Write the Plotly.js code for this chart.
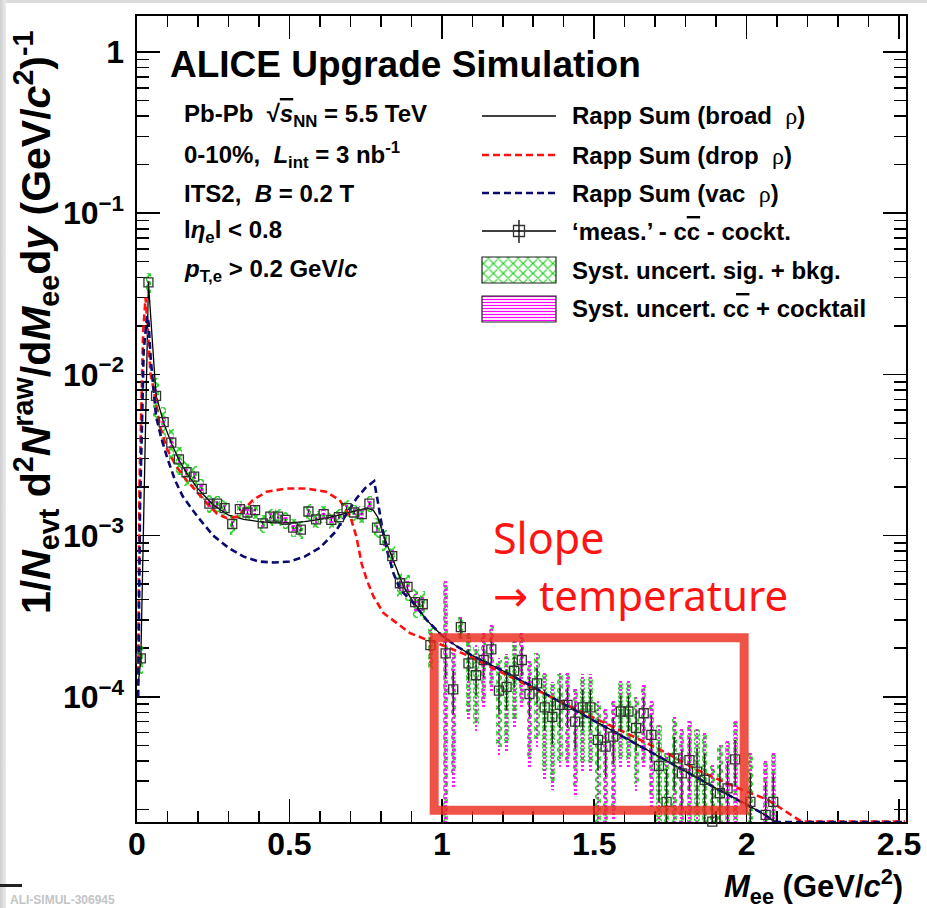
<!DOCTYPE html>
<html><head><meta charset="utf-8">
<script src="https://cdn.plot.ly/plotly-3.0.1.min.js"></script>
<style>
html,body{margin:0;padding:0;background:#fff;overflow:hidden;}
#frameTop{position:absolute;left:0;top:0;width:927px;height:3px;background:#dcdcdc;}
#frameLeft{position:absolute;left:0;top:0;width:6px;height:908px;background:linear-gradient(to right,#cfcfcf,#ececec);}
#blackTick{position:absolute;left:0;top:884px;width:22px;height:3px;background:#222;}
#chart{position:absolute;left:0;top:0;width:927px;height:908px;}
</style></head>
<body>
<div id="frameTop"></div><div id="frameLeft"></div><div id="blackTick"></div>
<div id="chart"></div>
<script>
// ---------------- data ----------------
const mass = [0.0125,0.0375,0.0625,0.0875,0.1125,0.1375,0.1625,0.1875,0.2125,0.2375,
0.2625,0.2875,0.3125,0.3375,0.3625,0.3875,0.4125,0.4375,0.4625,0.4875,
0.5125,0.5375,0.5625,0.5875,0.6125,0.6375,0.6625,0.6875,0.7125,0.7375,
0.7625,0.7875,0.8125,0.8375,0.8625,0.8875,0.9125,0.9375,0.9625,0.9875,
1.0125,1.0375,1.0625,1.0875,1.1125,1.1375,1.1625,1.1875,1.2125,1.2375,
1.2625,1.2875,1.3125,1.3375,1.3625,1.3875,1.4125,1.4375,1.4625,1.4875,
1.5125,1.5375,1.5625,1.5875,1.6125,1.6375,1.6625,1.6875,1.7125,1.7375,
1.7625,1.7875,1.8125,1.8375,1.8625,1.8875,1.9125,1.9375,1.9625,1.9875,
2.0125,2.0375,2.0625,2.0875];
const yieldVal = [1.73e-4,3.72e-2,7.35e-3,5.05e-3,3.77e-3,2.97e-3,2.47e-3,2.32e-3,1.95e-3,1.58e-3,
1.58e-3,1.48e-3,1.18e-3,1.46e-3,1.39e-3,1.44e-3,1.19e-3,1.31e-3,1.31e-3,1.25e-3,
1.12e-3,1.09e-3,1.41e-3,1.26e-3,1.36e-3,1.25e-3,1.30e-3,1.48e-3,1.39e-3,1.36e-3,
1.58e-3,1.12e-3,9.4e-4,7.46e-4,5.06e-4,4.8e-4,3.86e-4,3.75e-4,2.09e-4,null,
1.86e-4,1.11e-4,2.70e-4,1.61e-4,1.36e-4,1.69e-4,1.97e-4,1.09e-4,1.15e-4,1.45e-4,
1.69e-4,1.04e-4,1.21e-4,8.6e-5,7.5e-5,8.9e-5,8.9e-5,7.0e-5,8.6e-5,8.6e-5,
5.4e-5,4.9e-5,5.65e-5,8.1e-5,8.1e-5,6.4e-5,7.9e-5,5.8e-5,3.72e-5,2.23e-5,
4.15e-5,3.35e-5,4.05e-5,3.43e-5,3.05e-5,1.68e-5,2.52e-5,2.70e-5,4.09e-5,null,
2.23e-5,null,1.85e-5,2.23e-5];
// relative statistical uncertainty
const statRel = [0.08,0.01,0.02,0.02,0.02,0.02,0.02,0.02,0.02,0.02,
0.02,0.02,0.02,0.02,0.02,0.02,0.02,0.02,0.02,0.02,
0.02,0.02,0.02,0.02,0.02,0.02,0.02,0.02,0.02,0.02,
0.02,0.02,0.03,0.03,0.04,0.04,0.05,0.05,0.10,0,
0.30,0.30,0.12,0.22,0.25,0.22,0.18,0.28,0.28,0.22,
0.20,0.28,0.25,0.28,0.32,0.28,0.28,0.32,0.28,0.28,
0.35,0.35,0.32,0.25,0.25,0.28,0.25,0.32,0.40,0.60,
0.36,0.40,0.36,0.40,0.45,0.70,0.50,0.48,0.32,0,
0.50,0,0.60,0.50];
// relative syst. uncertainty, signal + background
const sysSigRel = [0.20,0.14,0.30,0.25,0.22,0.20,0.18,0.16,0.15,0.13,
0.12,0.13,0.14,0.12,0.12,0.12,0.13,0.12,0.12,0.12,
0.13,0.13,0.12,0.12,0.12,0.12,0.12,0.12,0.12,0.12,
0.12,0.14,0.15,0.16,0.18,0.18,0.20,0.20,0.30,0,
1.75,0.70,0.15,0.50,0.50,0.45,0.40,0.55,0.55,0.50,
0.45,0.60,0.55,0.60,0.60,0.55,0.55,0.60,0.55,0.55,
0.70,0.70,0.65,0.50,0.50,0.55,0.50,0.60,0.80,1.00,
0.75,0.85,0.75,0.85,0.90,1.20,1.00,0.95,0.70,0,
1.00,0,1.10,1.00];
// relative syst. uncertainty, charm + cocktail
const sysCcRel = [0.08,0.04,0.10,0.09,0.08,0.07,0.07,0.06,0.06,0.06,
0.06,0.06,0.06,0.06,0.06,0.06,0.06,0.06,0.06,0.06,
0.06,0.06,0.06,0.06,0.06,0.06,0.06,0.06,0.06,0.06,
0.06,0.07,0.08,0.09,0.10,0.10,0.12,0.12,0.25,0,
1.80,0.75,0.17,0.55,0.55,0.50,0.45,0.60,0.60,0.55,
0.50,0.65,0.60,0.65,0.65,0.60,0.60,0.65,0.60,0.60,
0.75,0.75,0.70,0.55,0.55,0.60,0.55,0.65,0.85,1.05,
0.80,0.90,0.80,0.90,0.95,1.25,1.05,1.00,0.75,0,
1.05,0,1.15,1.05];

// model curves
const broadX = [0.004,0.0125,0.0375,0.0625,0.0875,0.1125,0.1375,0.1625,0.2,0.25,0.3,0.35,0.4,0.45,0.5,0.55,0.6,0.65,0.7,0.73,0.755,0.775,0.79,0.81,0.84,0.875,0.9,0.95,1.0,1.05,1.1,1.2,1.3,1.4,1.5,1.6,1.7,1.8,1.9,2.0,2.05,2.095];
const broadY = [1.2e-4,1.7e-4,3.7e-2,7.4e-3,5.0e-3,3.75e-3,2.95e-3,2.45e-3,1.95e-3,1.55e-3,1.34e-3,1.26e-3,1.22e-3,1.2e-3,1.2e-3,1.22e-3,1.26e-3,1.32e-3,1.4e-3,1.45e-3,1.48e-3,1.44e-3,1.3e-3,9.9e-4,7.1e-4,4.8e-4,4.05e-4,3.0e-4,2.4e-4,2.05e-4,1.8e-4,1.45e-4,1.15e-4,9.0e-5,7.1e-5,5.6e-5,4.4e-5,3.45e-5,2.7e-5,2.15e-5,1.9e-5,1.67e-5];
const dropX = [0.004,0.008,0.02,0.028,0.034,0.044,0.055,0.076,0.1,0.13,0.158,0.19,0.23,0.262,0.295,0.33,0.38,0.425,0.49,0.556,0.62,0.665,0.7,0.72,0.737,0.754,0.776,0.809,0.853,0.896,0.94,0.973,1.08,1.19,1.41,1.63,1.74,1.84,1.96,2.07,2.18,2.3,2.52];
const dropY = [1.4e-4,2.0e-3,1.8e-2,3.0e-2,2.1e-2,1.02e-2,8.0e-3,4.7e-3,3.4e-3,2.67e-3,2.26e-3,1.92e-3,1.58e-3,1.37e-3,1.28e-3,1.31e-3,1.66e-3,1.87e-3,1.96e-3,1.96e-3,1.87e-3,1.66e-3,1.31e-3,9.8e-4,6.7e-4,5.3e-4,4.18e-4,3.3e-4,2.86e-4,2.48e-4,2.3e-4,2.2e-4,1.82e-4,1.43e-4,8.9e-5,5.65e-5,4.45e-5,3.5e-5,2.77e-5,2.29e-5,1.68e-5,1.68e-5,1.68e-5];
const vacX = [0.004,0.01,0.022,0.033,0.038,0.045,0.0625,0.08,0.1,0.125,0.15,0.2,0.25,0.3,0.35,0.4,0.45,0.5,0.55,0.6,0.65,0.7,0.72,0.75,0.778,0.792,0.804,0.82,0.842,0.864,0.9,0.95,1.0,1.05,1.1,1.2,1.3,1.4,1.5,1.6,1.7,1.8,1.9,2.0,2.05,2.095,2.3,2.52];
const vacY = [1.0e-4,1.5e-3,1.4e-2,2.3e-2,2.1e-2,1.25e-2,5.5e-3,4.0e-3,3.0e-3,2.2e-3,1.75e-3,1.3e-3,1.0e-3,8.4e-4,7.4e-4,6.9e-4,6.8e-4,6.9e-4,7.4e-4,8.4e-4,1.05e-3,1.5e-3,1.7e-3,1.98e-3,2.18e-3,1.55e-3,1.13e-3,8.1e-4,5.8e-4,4.6e-4,3.95e-4,3.0e-4,2.4e-4,2.05e-4,1.8e-4,1.45e-4,1.15e-4,9.0e-5,7.1e-5,5.6e-5,4.4e-5,3.45e-5,2.7e-5,2.15e-5,1.9e-5,1.67e-5,1.67e-5,1.67e-5];

const xTickVals = [0,0.5,1,1.5,2,2.5];
const xTickText = ['0','0.5','1','1.5','2','2.5'];
const yTickVals = [1e-4,1e-3,1e-2,1e-1,1];
const yTickText = ['10<sup>\u22124</sup>','10<sup>\u22123</sup>','10<sup>\u22122</sup>','10<sup>\u22121</sup>','1'];
const legendLabels = [
 'Rapp Sum (broad  <span style="font-family:Liberation Serif;font-weight:normal">\u03c1</span>)',
 'Rapp Sum (drop  <span style="font-family:Liberation Serif;font-weight:normal">\u03c1</span>)',
 'Rapp Sum (vac  <span style="font-family:Liberation Serif;font-weight:normal">\u03c1</span>)',
 '\u2018meas.\u2019 - c<span style="text-decoration:overline">c</span> - cockt.',
 'Syst. uncert. sig. + bkg.',
 'Syst. uncert. c<span style="text-decoration:overline">c</span> + cocktail'
];
const infoLines = [
 'Pb-Pb  \u221a<span style="text-decoration:overline"><i>s</i></span><sub>NN</sub> = 5.5 TeV',
 '0-10%,  <i>L</i><sub>int</sub> = 3 nb<sup>-1</sup>',
 'ITS2,  <i>B</i> = 0.2 T',
 'l<i>\u03b7</i><sub>e</sub>l &lt; 0.8',
 '<i>p</i><sub>T,e</sub> &gt; 0.2 GeV/<i>c</i>'
];

// ---------------- geometry helpers (pixel -> paper) ----------------
const PL=137, PR=906, PT=16, PB=822;
const px = v => (v-PL)/(PR-PL);
const py = v => (PB-v)/(PB-PT);
const FONT = 'Liberation Sans, Arial, Helvetica, sans-serif';
const BLACK = '#000';
const GREEN = '#19cf19';
const MAGENTA = '#ff00ff';
const NAVY = '#0a0a6e';
const RED = '#ff1010';

function bandTrace(rel, color, shape, size, width, solidity){
  const xs=[], base=[], h=[];
  mass.forEach((m,i)=>{
    const v = yieldVal[i];
    if (v===null || !rel[i]) return;
    const lo = Math.max(v*(1-rel[i]), 1e-7);
    const hi = v*(1+rel[i]);
    xs.push(m); base.push(lo); h.push(hi-lo);
  });
  return {type:'bar', x:xs, y:h, base:base, width:width,
    marker:{color:'rgba(0,0,0,0)', line:{width:0},
      pattern:{shape:shape, size:size, solidity:solidity, fgcolor:color, bgcolor:'rgba(0,0,0,0)'}},
    hoverinfo:'skip', showlegend:false};
}

const statUp = yieldVal.map((v,i)=> v===null?0: v*statRel[i]);
const statDn = yieldVal.map((v,i)=> v===null?0: Math.min(v*statRel[i], v*0.999));

const traces = [
  bandTrace(sysSigRel, GREEN, 'x', 6, 0.017, 0.45),
  bandTrace(sysCcRel, MAGENTA, '-', 4, 0.009, 0.45),
  {type:'scatter', mode:'lines', x:broadX, y:broadY, line:{color:BLACK, width:1.3}, cliponaxis:false, hoverinfo:'skip'},
  {type:'scatter', mode:'lines', x:dropX, y:dropY, line:{color:RED, width:2.6, dash:'7px,4px'}, cliponaxis:false, hoverinfo:'skip'},
  {type:'scatter', mode:'lines', x:vacX, y:vacY, line:{color:NAVY, width:2.6, dash:'7px,4px'}, cliponaxis:false, hoverinfo:'skip'},
  {type:'scatter', mode:'markers', x:mass, y:yieldVal, marker:{size:1, color:'rgba(0,0,0,0)'},
    error_y:{type:'data', symmetric:false, array:statUp, arrayminus:statDn, color:'#222', thickness:1.3, width:0},
    cliponaxis:true, hoverinfo:'skip'},
  {type:'scatter', mode:'markers', x:mass, y:yieldVal,
    marker:{symbol:'square-open', size:9, color:'#333', line:{width:1.3, color:'#333'}},
    cliponaxis:false, hoverinfo:'skip'},
  // legend glyphs (pixel-unit overlay axes)
  {type:'scatter', mode:'lines', x:[482,556], y:[116,116], xaxis:'x2', yaxis:'y2', line:{color:BLACK,width:1.3}, hoverinfo:'skip'},
  {type:'scatter', mode:'lines', x:[482,556], y:[155,155], xaxis:'x2', yaxis:'y2', line:{color:RED,width:2.6,dash:'7px,4px'}, hoverinfo:'skip'},
  {type:'scatter', mode:'lines', x:[482,556], y:[193,193], xaxis:'x2', yaxis:'y2', line:{color:NAVY,width:2.6,dash:'7px,4px'}, hoverinfo:'skip'},
  {type:'scatter', mode:'lines', x:[482,556], y:[231,231], xaxis:'x2', yaxis:'y2', line:{color:BLACK,width:1.3}, hoverinfo:'skip'},
  {type:'scatter', mode:'lines', x:[519,519], y:[220,243], xaxis:'x2', yaxis:'y2', line:{color:BLACK,width:1.3}, hoverinfo:'skip'},
  {type:'scatter', mode:'markers', x:[519], y:[231], xaxis:'x2', yaxis:'y2', marker:{symbol:'square-open', size:11, color:'#333', line:{width:1.3,color:'#333'}}, hoverinfo:'skip'},
  {type:'bar', x:[519], y:[26], base:[257], width:[74], xaxis:'x2', yaxis:'y2',
    marker:{color:'rgba(0,0,0,0)', line:{width:1.2, color:'#222'}, pattern:{shape:'x', size:7, solidity:0.3, fgcolor:GREEN, bgcolor:'rgba(255,255,255,0)'}}, hoverinfo:'skip'},
  {type:'bar', x:[519], y:[26], base:[296], width:[74], xaxis:'x2', yaxis:'y2',
    marker:{color:'rgba(0,0,0,0)', line:{width:1.2, color:'#222'}, pattern:{shape:'-', size:3, solidity:0.4, fgcolor:MAGENTA, bgcolor:'rgba(255,255,255,0)'}}, hoverinfo:'skip'}
];

const minorY = [];
[1e-5,1e-4,1e-3,1e-2,1e-1,1].forEach(d=>{ for(let k=2;k<=9;k++) minorY.push(d*k); });

const annotations = [];
annotations.push({xref:'paper', yref:'paper', x:px(168), y:py(65), xanchor:'left', yanchor:'middle',
  text:'ALICE Upgrade Simulation', showarrow:false, font:{family:FONT, size:37, color:BLACK, weight:'bold'}});
const infoY = [116,155,193,231,270];
infoLines.forEach((t,i)=> annotations.push({xref:'paper', yref:'paper', x:px(182), y:py(infoY[i]), xanchor:'left', yanchor:'middle',
  text:t, showarrow:false, font:{family:FONT, size:24, color:BLACK, weight:'bold'}}));
const legY = [116,155,193,231,270,308];
legendLabels.forEach((t,i)=> annotations.push({xref:'paper', yref:'paper', x:px(570), y:py(legY[i]), xanchor:'left', yanchor:'middle',
  text:t, showarrow:false, font:{family:FONT, size:24, color:BLACK, weight:'bold'}}));
annotations.push({xref:'paper', yref:'paper', x:px(491), y:py(537), xanchor:'left', yanchor:'middle',
  text:'Slope', showarrow:false, font:{family:'Noto Sans, Open Sans, sans-serif', size:43, color:'#ff1414'}});
annotations.push({xref:'paper', yref:'paper', x:px(491), y:py(594), xanchor:'left', yanchor:'middle',
  text:'<span style="font-family:DejaVu Sans">\u2192</span> temperature', showarrow:false, font:{family:'Noto Sans, Open Sans, sans-serif', size:42, color:'#ff1414'}});
annotations.push({xref:'paper', yref:'paper', x:px(36), y:py(322), xanchor:'center', yanchor:'middle', textangle:-90,
  text:'1/<i>N</i><sub>evt</sub> d<sup>2</sup><i>N</i><sup>raw</sup>/d<i>M</i><sub>ee</sub>d<i>y</i> (GeV/<i>c</i><sup>2</sup>)<sup>-1</sup>',
  showarrow:false, font:{family:FONT, size:41, color:BLACK, weight:'bold'}});
annotations.push({xref:'paper', yref:'paper', x:px(904), y:py(886), xanchor:'right', yanchor:'middle', borderpad:0,
  text:'<i>M</i><sub>ee</sub> (GeV/<i>c</i><sup>2</sup>)', showarrow:false, font:{family:FONT, size:31, color:BLACK, weight:'bold'}});
annotations.push({xref:'paper', yref:'paper', x:px(8), y:py(900), xanchor:'left', yanchor:'middle',
  text:'ALI-SIMUL-306945', showarrow:false, font:{family:FONT, size:12, color:'#c4c4c4', weight:'bold'}});

const axisCommon = {showline:true, linecolor:BLACK, linewidth:1.6, mirror:'allticks', ticks:'inside', tickwidth:1.5, tickcolor:BLACK,
  showgrid:false, zeroline:false, layer:'below traces', fixedrange:true, tickfont:{family:FONT, size:32, color:BLACK, weight:'bold'}};

const layout = {
  width:927, height:908,
  margin:{l:PL, r:927-PR, t:PT, b:908-PB, pad:0},
  paper_bgcolor:'rgba(0,0,0,0)', plot_bgcolor:'rgba(0,0,0,0)',
  showlegend:false, barmode:'overlay', bargap:0,
  xaxis:Object.assign({}, axisCommon, {range:[0,2.523], tickmode:'array', tickvals:xTickVals, ticktext:xTickText, ticklen:23, ticklabelstandoff:-7,
    minor:{ticks:'inside', ticklen:11, tickwidth:1.5, tickcolor:BLACK, dtick:0.1, tick0:0, showgrid:false}}),
  yaxis:Object.assign({}, axisCommon, {type:'log', range:[-4.777,0.2233], tickmode:'array', tickvals:yTickVals, ticktext:yTickText, ticklen:23, ticklabelstandoff:5,
    minor:{ticks:'inside', ticklen:12, tickwidth:1.5, tickcolor:BLACK, tickmode:'array', tickvals:minorY, showgrid:false}}),
  xaxis2:{overlaying:'x', range:[PL,PR], visible:false, fixedrange:true},
  yaxis2:{overlaying:'y', range:[PB,PT], visible:false, fixedrange:true},
  shapes:[
    {type:'rect', xref:'x', yref:'y', x0:0.975, x1:1.992, y0:1.98e-5, y1:2.32e-4, line:{color:'rgba(236,45,30,0.82)', width:9}, fillcolor:'rgba(0,0,0,0)', layer:'above'}
  ],
  annotations:annotations
};

Plotly.newPlot('chart', traces, layout, {displayModeBar:false, staticPlot:true});
</script></body></html>
